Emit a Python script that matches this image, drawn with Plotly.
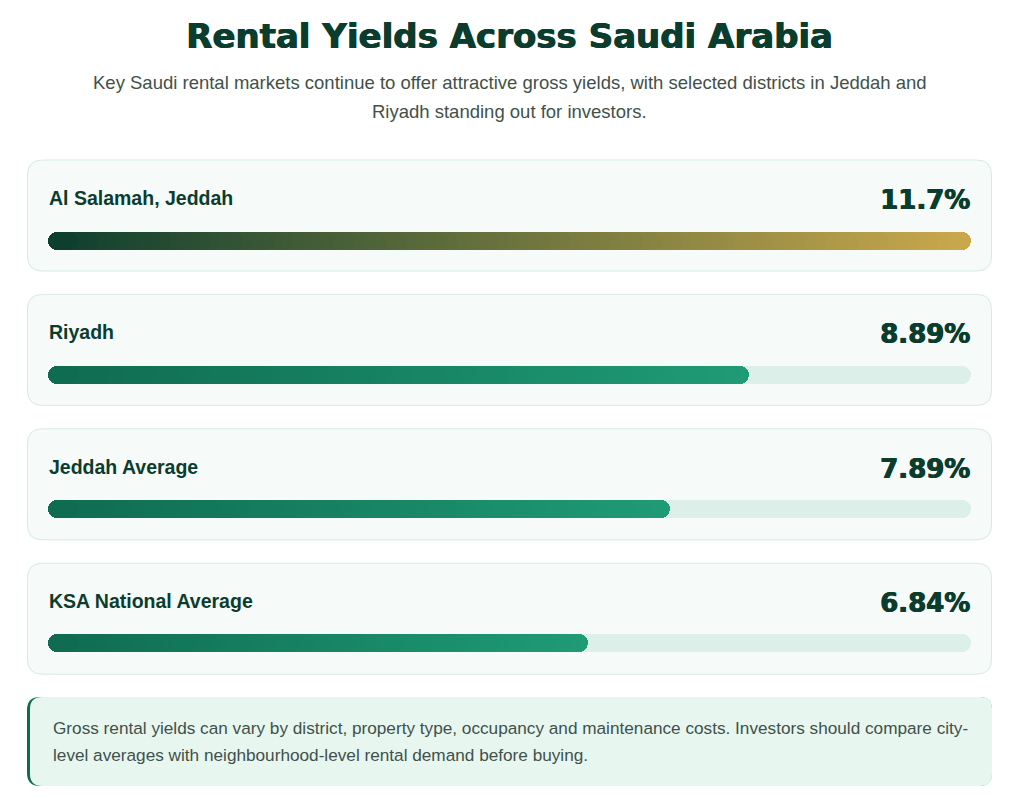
import plotly.graph_objects as go

# ---- data ----
markets = ["Al Salamah, Jeddah", "Riyadh", "Jeddah Average", "KSA National Average"]
yields = [11.7, 8.89, 7.89, 6.84]
value_labels = ["11.7%", "8.89%", "7.89%", "6.84%"]

title = "Rental Yields Across Saudi Arabia"
subtitle_lines = ["Key Saudi rental markets continue to offer attractive gross yields, with selected districts in Jeddah and",
                  "Riyadh standing out for investors."]
note_lines = ["Gross rental yields can vary by district, property type, occupancy and maintenance costs. Investors should compare city-",
              "level averages with neighbourhood-level rental demand before buying."]

# ---- style ----
W, H = 1024, 799
PL, PR = 48, 971          # plot area left/right px
PT, PB = 174, 710         # plot area top/bottom px
DARK = "#0b3d2e"
TEXT2 = "#3f514b"
TRACK = "#dcefe8"
CARD_FILL = "#f6faf9"
CARD_LINE = "#d5eae2"
GRAD_TOP = ("#0b3d2e", "#c9a84c")
GRAD_OTHER = ("#0f6b50", "#1f9b75")
N_STEPS = 90
BAR_W = 18 / 134.0
RADIUS = 9
HEAVY = "0.7px 0 0 #0b3d2e, -0.3px 0 0 #0b3d2e"

xmax = max(yields)
ymin, ymax = -0.5, 3.5
unit_px = (PR - PL) / xmax
CAP = 30 / unit_px      # left cap length (data units)
START = 12 / unit_px    # where gradient/track body starts (hidden under cap)


def fx(px):
    return (px - PL) / (PR - PL)


def fy(py):
    return (PB - py) / (PB - PT)


def hex2rgb(h):
    h = h.lstrip("#")
    return tuple(int(h[i:i + 2], 16) for i in (0, 2, 4))


def mix(c1, c2, t):
    a, b = hex2rgb(c1), hex2rgb(c2)
    return "rgb(%d,%d,%d)" % tuple(round(a[i] + (b[i] - a[i]) * t) for i in range(3))


def rounded_rect(x0, y0, x1, y1, r):
    pts = [
        f"M {fx(x0 + r)} {fy(y0)}",
        f"L {fx(x1 - r)} {fy(y0)}",
        f"Q {fx(x1)} {fy(y0)} {fx(x1)} {fy(y0 + r)}",
        f"L {fx(x1)} {fy(y1 - r)}",
        f"Q {fx(x1)} {fy(y1)} {fx(x1 - r)} {fy(y1)}",
        f"L {fx(x0 + r)} {fy(y1)}",
        f"Q {fx(x0)} {fy(y1)} {fx(x0)} {fy(y1 - r)}",
        f"L {fx(x0)} {fy(y0 + r)}",
        f"Q {fx(x0)} {fy(y0)} {fx(x0 + r)} {fy(y0)}",
        "Z",
    ]
    return " ".join(pts)


rows = list(range(len(markets)))
fig = go.Figure()


def bar(ys, xs, bases, color):
    fig.add_trace(go.Bar(y=ys, x=xs, base=bases, orientation="h", width=BAR_W,
                         marker=dict(color=color, cornerradius=RADIUS, line=dict(width=0)),
                         hoverinfo="skip", showlegend=False))


# track: body (rounded right) + left cap (rounded left)
bar(rows, [xmax - START] * len(rows), [START] * len(rows), TRACK)
bar(rows, [-CAP] * len(rows), [CAP] * len(rows), TRACK)

# gradient fill: longest step first, shorter steps overlay
for i in range(N_STEPS, 0, -1):
    t = i / N_STEPS
    xs, bs, cs, ys = [], [], [], []
    for k, v in enumerate(yields):
        end = v * t
        if end <= CAP:
            continue
        g = GRAD_TOP if k == 0 else GRAD_OTHER
        xs.append(end - START)
        bs.append(START)
        cs.append(mix(g[0], g[1], t))
        ys.append(k)
    if xs:
        bar(ys, xs, bs, cs)

# left caps of the filled bars
cap_cols = []
for k, v in enumerate(yields):
    g = GRAD_TOP if k == 0 else GRAD_OTHER
    cap_cols.append(mix(g[0], g[1], 0.5 * CAP / v))
bar(rows, [-CAP] * len(rows), [CAP] * len(rows), cap_cols)

shapes = []
card_top0, card_step, card_h = 160, 134.4, 111
for k in rows:
    top = card_top0 + k * card_step
    shapes.append(dict(type="path", xref="paper", yref="paper", layer="below",
                       path=rounded_rect(27.5, top, 991.5, top + card_h, 15),
                       fillcolor=CARD_FILL, line=dict(color=CARD_LINE, width=1)))

# note box with left accent
shapes.append(dict(type="path", xref="paper", yref="paper", layer="below",
                   path=rounded_rect(27, 697, 992, 786, 13),
                   fillcolor="#0f6b50", line=dict(width=0)))
shapes.append(dict(type="path", xref="paper", yref="paper", layer="below",
                   path=rounded_rect(30, 697, 992, 786, 12),
                   fillcolor="#e8f6f0", line=dict(width=0)))

annotations = [
    dict(text=f"<b>{title}</b>", x=fx(510), y=fy(36), xref="paper", yref="paper",
         xanchor="center", yanchor="middle", showarrow=False,
         font=dict(family="DejaVu Sans", size=34, color=DARK, shadow=HEAVY)),
]
for j, line in enumerate(subtitle_lines):
    annotations.append(dict(text=line, x=fx(510), y=fy(82 + 30 * j), xref="paper", yref="paper",
                            xanchor="center", yanchor="middle", showarrow=False,
                            font=dict(family="Liberation Sans", size=18.5, color=TEXT2)))
for j, line in enumerate(note_lines):
    annotations.append(dict(text=line, x=fx(51), y=fy(728 + 27 * j), xref="paper", yref="paper",
                            xanchor="left", yanchor="middle", showarrow=False,
                            font=dict(family="Liberation Sans", size=17.2, color=TEXT2)))
for k, (name, lab) in enumerate(zip(markets, value_labels)):
    top = card_top0 + k * card_step
    annotations.append(dict(text=f"<b>{name}</b>", x=fx(47), y=fy(top + 38), xref="paper", yref="paper",
                            xanchor="left", yanchor="middle", showarrow=False,
                            font=dict(family="Liberation Sans", size=19.5, color=DARK)))
    annotations.append(dict(text=f"<b>{lab}</b>", x=fx(971.5), y=fy(top + 40), xref="paper", yref="paper",
                            xanchor="right", yanchor="middle", showarrow=False,
                            font=dict(family="DejaVu Sans", size=26, color=DARK, shadow=HEAVY)))

fig.update_layout(
    width=W, height=H,
    margin=dict(l=PL, r=W - PR, t=PT, b=H - PB, pad=0),
    paper_bgcolor="white", plot_bgcolor="rgba(0,0,0,0)",
    barmode="overlay", bargap=0,
    xaxis=dict(range=[0, xmax], visible=False, fixedrange=True),
    yaxis=dict(range=[ymax, ymin], visible=False, fixedrange=True),
    shapes=shapes, annotations=annotations,
    showlegend=False, hovermode=False,
)

fig.write_html("out.html", config={"displayModeBar": False})
